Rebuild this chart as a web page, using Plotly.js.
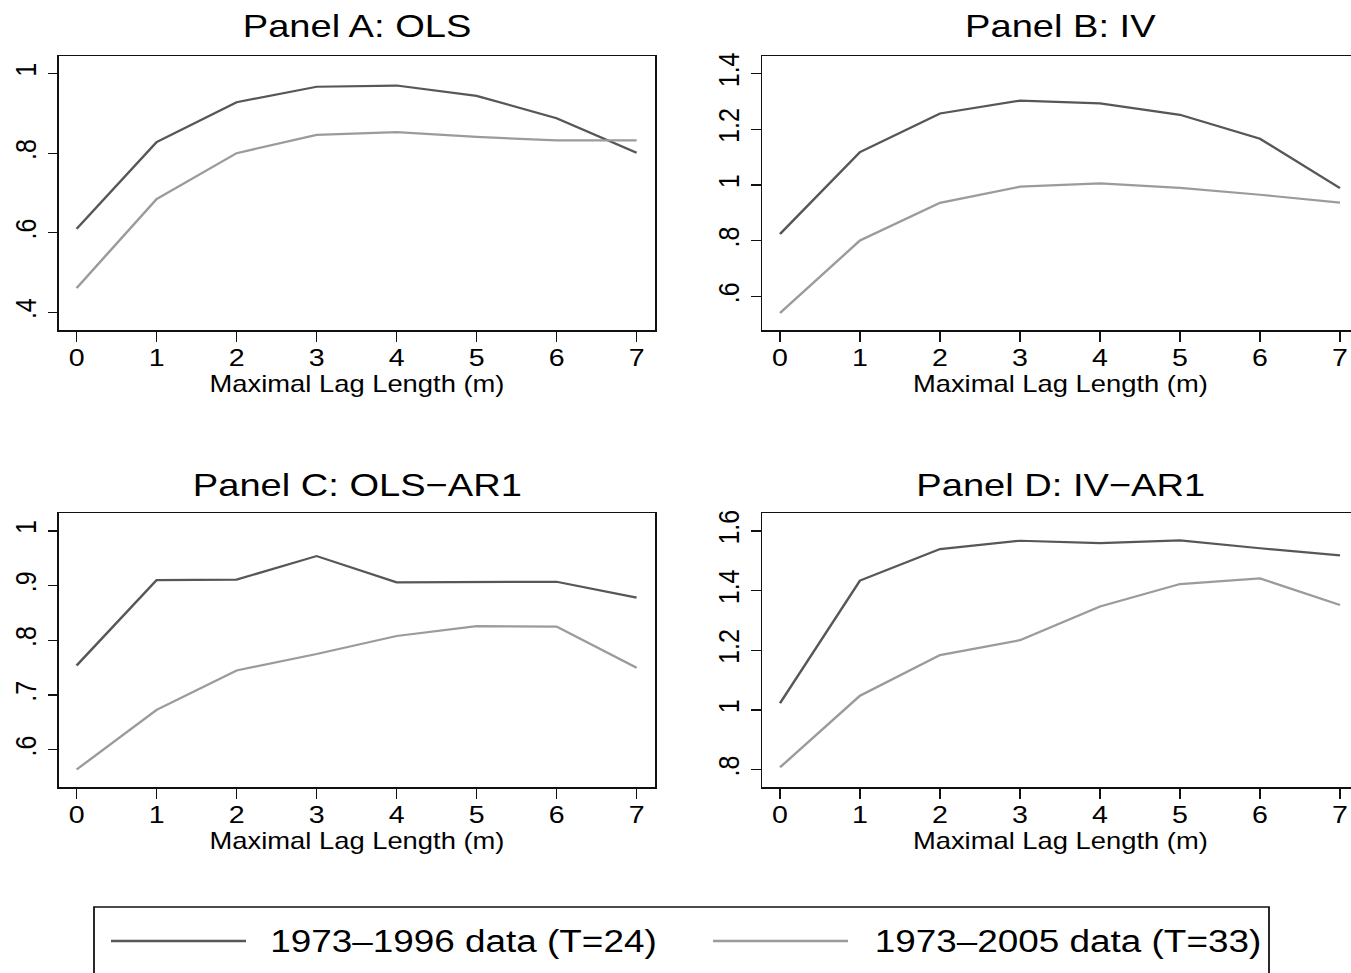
<!DOCTYPE html>
<html>
<head>
<meta charset="utf-8">
<script src="https://cdn.plot.ly/plotly-3.0.1.min.js"></script>
<style>
  html, body { margin: 0; padding: 0; background: #ffffff; overflow: hidden; }
  #plot { width: 1142px; height: 973px; transform: scaleX(1.19); transform-origin: 0 0; }
</style>
</head>
<body>
<div id="plot"></div>
<script>
// ---- data ----
const lagLength = [0, 1, 2, 3, 4, 5, 6, 7];
const seriesNames = ["1973\u20131996 data (T=24)", "1973\u20132005 data (T=33)"];
const panelTitles = ["Panel A: OLS", "Panel B: IV", "Panel C: OLS\u2212AR1", "Panel D: IV\u2212AR1"];
const xTitle = "Maximal Lag Length (m)";

const olsShort   = [0.610, 0.828, 0.928, 0.967, 0.970, 0.944, 0.888, 0.801];
const olsLong    = [0.461, 0.685, 0.800, 0.846, 0.853, 0.841, 0.832, 0.832];
const ivShort    = [0.824, 1.118, 1.257, 1.303, 1.293, 1.252, 1.166, 0.989];
const ivLong     = [0.541, 0.801, 0.936, 0.994, 1.006, 0.990, 0.965, 0.937];
const olsArShort = [0.754, 0.910, 0.911, 0.954, 0.906, 0.907, 0.907, 0.878];
const olsArLong  = [0.564, 0.673, 0.745, 0.775, 0.808, 0.826, 0.825, 0.750];
const ivArShort  = [1.023, 1.434, 1.539, 1.567, 1.559, 1.568, 1.542, 1.518];
const ivArLong   = [0.808, 1.048, 1.184, 1.234, 1.347, 1.422, 1.441, 1.352];

const xTickVals = [0, 1, 2, 3, 4, 5, 6, 7];
const xTickText = ["0", "1", "2", "3", "4", "5", "6", "7"];
const yTickValsA = [0.4, 0.6, 0.8, 1.0];
const yTickTextA = [".4", ".6", ".8", "1"];
const yTickValsB = [0.6, 0.8, 1.0, 1.2, 1.4];
const yTickTextB = [".6", ".8", "1", "1.2", "1.4"];
const yTickValsC = [0.6, 0.7, 0.8, 0.9, 1.0];
const yTickTextC = [".6", ".7", ".8", ".9", "1"];
const yTickValsD = [0.8, 1.0, 1.2, 1.4, 1.6];
const yTickTextD = [".8", "1", "1.2", "1.4", "1.6"];

// ---- styling / geometry ----
const S = 1.19, W = 1142, H = 973;
const fx = px => px / (S * W);
const fy = py => 1 - py / H;
const FONT = '"Liberation Sans", Arial, Helvetica, sans-serif';
const darkCol = '#575757', lightCol = '#9b9b9b';
const frameCol = '#111111';

const colL = [59, 655], colR = [762.4, 1358.4];
const rowT = [56, 330], rowB = [513, 787];

function xax(dom) {
  return {
    domain: [fx(dom[0]), fx(dom[1])], range: [-0.22, 7.23],
    tickmode: 'array', tickvals: xTickVals, ticktext: xTickText,
    ticks: 'outside', ticklen: 10, tickwidth: 1.3, tickcolor: frameCol,
    showline: true, mirror: true, linecolor: frameCol, linewidth: 1.5,
    showgrid: false, zeroline: false, ticklabelstandoff: -4,
    tickfont: { family: FONT, size: 24, color: '#000' },
    title: { text: xTitle, font: { family: FONT, size: 23, color: '#000' }, standoff: 2 },
    automargin: false, fixedrange: true
  };
}
function yax(dom, rng, tv, tt) {
  return {
    domain: [fy(dom[1]), fy(dom[0])], range: rng,
    tickmode: 'array', tickvals: tv, ticktext: tt, tickangle: -90,
    ticks: 'outside', ticklen: 8, tickwidth: 1.3, tickcolor: frameCol,
    showline: true, mirror: true, linecolor: frameCol, linewidth: 1.5,
    showgrid: false, zeroline: false,
    tickfont: { family: FONT, size: 25, color: '#000' },
    automargin: false, fixedrange: true
  };
}

const panels = [
  [olsShort, olsLong, 'x', 'y'],
  [ivShort, ivLong, 'x2', 'y2'],
  [olsArShort, olsArLong, 'x3', 'y3'],
  [ivArShort, ivArLong, 'x4', 'y4']
];
const traces = [];
panels.forEach(p => {
  traces.push({ x: lagLength, y: p[0], xaxis: p[2], yaxis: p[3], type: 'scatter', mode: 'lines',
    name: seriesNames[0], line: { color: darkCol, width: 2.2 }, showlegend: false, hoverinfo: 'skip' });
  traces.push({ x: lagLength, y: p[1], xaxis: p[2], yaxis: p[3], type: 'scatter', mode: 'lines',
    name: seriesNames[1], line: { color: lightCol, width: 2.2 }, showlegend: false, hoverinfo: 'skip' });
});

const titleY = [26, 485];
const annotations = [
  { text: panelTitles[0], x: fx((colL[0] + colL[1]) / 2), y: fy(titleY[0]) },
  { text: panelTitles[1], x: fx((colR[0] + colR[1]) / 2), y: fy(titleY[0]) },
  { text: panelTitles[2], x: fx((colL[0] + colL[1]) / 2), y: fy(titleY[1]) },
  { text: panelTitles[3], x: fx((colR[0] + colR[1]) / 2), y: fy(titleY[1]) }
].map(a => Object.assign(a, { xref: 'paper', yref: 'paper', xanchor: 'center', yanchor: 'middle',
  showarrow: false, font: { family: FONT, size: 32, color: '#000' } }));

// legend (drawn as layout decoration)
const legY = 941;
annotations.push({ text: seriesNames[0], xref: 'paper', yref: 'paper', x: fx(268), y: fy(legY),
  xanchor: 'left', yanchor: 'middle', showarrow: false, font: { family: FONT, size: 31, color: '#000' } });
annotations.push({ text: seriesNames[1], xref: 'paper', yref: 'paper', x: fx(872), y: fy(legY),
  xanchor: 'left', yanchor: 'middle', showarrow: false, font: { family: FONT, size: 31, color: '#000' } });

const shapes = [
  { type: 'rect', xref: 'paper', yref: 'paper', x0: fx(94), x1: fx(1269), y0: fy(907), y1: fy(1000),
    line: { color: frameCol, width: 1.5 }, fillcolor: 'rgba(0,0,0,0)' },
  { type: 'line', xref: 'paper', yref: 'paper', x0: fx(111), x1: fx(246), y0: fy(legY), y1: fy(legY),
    line: { color: darkCol, width: 2.6 } },
  { type: 'line', xref: 'paper', yref: 'paper', x0: fx(713), x1: fx(848), y0: fy(legY), y1: fy(legY),
    line: { color: lightCol, width: 2.6 } }
];

const layout = {
  width: W, height: H, margin: { l: 0, r: 0, t: 0, b: 0 },
  paper_bgcolor: '#ffffff', plot_bgcolor: '#ffffff', showlegend: false,
  font: { family: FONT, color: '#000' },
  xaxis: Object.assign(xax(colL), { anchor: 'y' }),
  yaxis: Object.assign(yax(rowT, [0.3558, 1.0442], yTickValsA, yTickTextA), { anchor: 'x' }),
  xaxis2: Object.assign(xax(colR), { anchor: 'y2' }),
  yaxis2: Object.assign(yax(rowT, [0.4796, 1.4632], yTickValsB, yTickTextB), { anchor: 'x2' }),
  xaxis3: Object.assign(xax(colL), { anchor: 'y3' }),
  yaxis3: Object.assign(yax(rowB, [0.5321, 1.0327], yTickValsC, yTickTextC), { anchor: 'x3' }),
  xaxis4: Object.assign(xax(colR), { anchor: 'y4' }),
  yaxis4: Object.assign(yax(rowB, [0.7422, 1.66], yTickValsD, yTickTextD), { anchor: 'x4' }),
  annotations: annotations, shapes: shapes
};

Plotly.newPlot('plot', traces, layout, { staticPlot: true, displayModeBar: false });
</script>
</body>
</html>
